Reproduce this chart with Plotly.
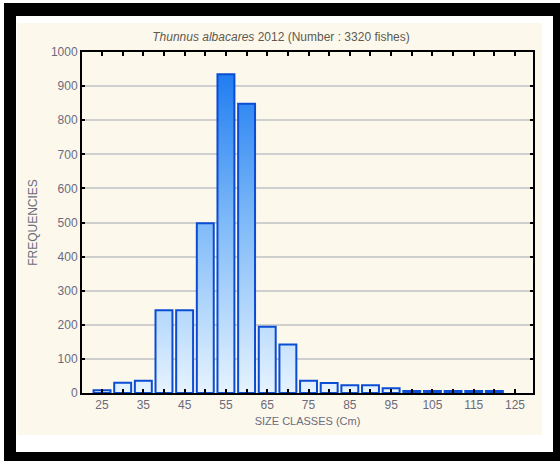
import plotly.graph_objects as go

# ---- data ----
size_classes = [25, 30, 35, 40, 45, 50, 55, 60, 65, 70, 75, 80, 85, 90, 95, 100, 105, 110, 115, 120]
frequencies = [8, 30, 36, 243, 243, 498, 935, 848, 194, 142, 36, 29, 23, 23, 14, 6, 6, 6, 6, 6]
tick_values = list(range(25, 130, 5))
tick_labels = [str(v) if (v - 25) % 10 == 0 else "" for v in tick_values]
y_ticks = list(range(0, 1100, 100))

title_text = "<i>Thunnus albacares</i> 2012 (Number : 3320 fishes)"
x_title = "SIZE CLASSES (Cm)"
y_title = "FREQUENCIES"

# ---- build bar outlines (data space) ----
bar_width = 4.1
xs, ys = [], []
for c, f in zip(size_classes, frequencies):
    left, right = c - bar_width / 2, c + bar_width / 2
    xs += [left, left, right, right, left, None]
    ys += [0, f, f, 0, 0, None]

fig = go.Figure()
fig.add_trace(go.Scatter(
    x=xs, y=ys, mode="lines", fill="toself",
    fillgradient=dict(type="vertical", start=0, stop=1000,
                      colorscale=[[0, "#e6f3ff"], [0.5, "#7fbaf8"], [1, "#1274f0"]]),
    line=dict(color="#0b4cd4", width=2),
    hoverinfo="skip", showlegend=False,
))

font_family = "Liberation Sans, Arial, sans-serif"
label_color = "#6b6b7c"

fig.update_layout(
    width=560, height=461,
    paper_bgcolor="white", plot_bgcolor="white",
    margin=dict(l=82, r=27, t=52, b=68, autoexpand=False),
    font=dict(family=font_family, size=12, color=label_color),
    title=dict(text=title_text, x=(281 - 0) / 560, xanchor="center",
               y=1 - 37 / 461, yanchor="middle",
               font=dict(size=12, color="#5e5a50")),
    showlegend=False,
    shapes=[
        dict(type="rect", xref="paper", yref="paper", layer="below",
             x0=(4 - 82) / 451, x1=(560 - 82) / 451, y0=(393 - 465) / 341, y1=(393 - 3) / 341,
             fillcolor="black", line=dict(width=0)),
        dict(type="rect", xref="paper", yref="paper", layer="below",
             x0=(16 - 82) / 451, x1=(553 - 82) / 451, y0=(393 - 452) / 341, y1=(393 - 16) / 341,
             fillcolor="white", line=dict(width=0)),
        dict(type="rect", xref="paper", yref="paper", layer="below",
             x0=(17 - 82) / 451, x1=(542 - 82) / 451, y0=(393 - 435) / 341, y1=(393 - 23) / 341,
             fillcolor="#fdf8ec", line=dict(width=0)),
    ],
)

fig.update_xaxes(
    range=[20.15, 129.35],
    tickmode="array", tickvals=tick_values, ticktext=tick_labels,
    ticks="inside", ticklen=4, tickwidth=1.5, tickcolor="black",
    showline=True, linecolor="black", linewidth=2, mirror="ticks",
    showgrid=False, zeroline=False,
    tickfont=dict(size=12, color=label_color),
    title=dict(text=x_title, standoff=6, font=dict(size=11, color=label_color)),
)
fig.update_yaxes(
    range=[0, 1000],
    tickmode="array", tickvals=y_ticks,
    ticks="inside", ticklen=3, tickwidth=1.5, tickcolor="black",
    showline=True, linecolor="black", linewidth=2, mirror="ticks",
    showgrid=True, gridcolor="#cfcfcf", gridwidth=1.5, zeroline=False,
    tickfont=dict(size=12, color=label_color),
    title=dict(text=y_title, standoff=11, font=dict(size=12, color=label_color)),
)

fig.write_html("out.html", config={"displayModeBar": False},
               post_script="document.body.style.margin='0';document.body.style.overflow='hidden';")
